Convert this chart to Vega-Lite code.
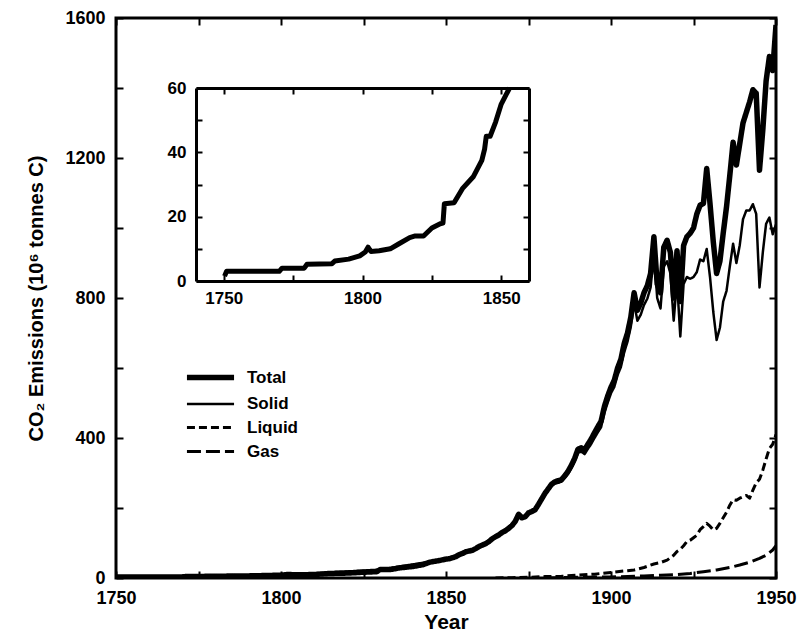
{
  "$schema": "https://vega.github.io/schema/vega-lite/v6.json",
  "width": 660,
  "height": 560,
  "autosize": {"type": "none"},
  "padding": {"left": 116, "top": 18, "right": 22, "bottom": 56},
  "background": "white",
  "config": {
    "view": {"stroke": "black", "strokeWidth": 3},
    "font": "Liberation Sans",
    "axis": {"grid": false, "labelFont": "Liberation Sans", "labelFontWeight": "bold", "labelColor": "black", "tickColor": "black", "domainColor": "black", "titleColor": "black", "titleFont": "Liberation Sans", "titleFontWeight": "bold", "labelFlush": false}
  },
  "datasets": {
    "main": [
      {"series":"Total","year":1750,"value":3},{"series":"Total","year":1760,"value":3},{"series":"Total","year":1770,"value":3},{"series":"Total","year":1771,"value":4},{"series":"Total","year":1780,"value":5},{"series":"Total","year":1790,"value":6},{"series":"Total","year":1800,"value":8},{"series":"Total","year":1802,"value":10},{"series":"Total","year":1805,"value":9},{"series":"Total","year":1810,"value":10},{"series":"Total","year":1815,"value":13},{"series":"Total","year":1820,"value":14},{"series":"Total","year":1825,"value":16.5},{"series":"Total","year":1829,"value":18},{"series":"Total","year":1830,"value":24},{"series":"Total","year":1833,"value":24},{"series":"Total","year":1836,"value":29},{"series":"Total","year":1840,"value":33},{"series":"Total","year":1843,"value":38},{"series":"Total","year":1845,"value":45},{"series":"Total","year":1848,"value":50},
      {"series":"Total","year":1850,"value":54},{"series":"Total","year":1851,"value":55},{"series":"Total","year":1852,"value":58},{"series":"Total","year":1853,"value":61},{"series":"Total","year":1854,"value":67},{"series":"Total","year":1855,"value":70},{"series":"Total","year":1856,"value":75},{"series":"Total","year":1857,"value":77},{"series":"Total","year":1858,"value":79},{"series":"Total","year":1859,"value":84},
      {"series":"Total","year":1860,"value":90},{"series":"Total","year":1861,"value":94},{"series":"Total","year":1862,"value":98},{"series":"Total","year":1863,"value":104},{"series":"Total","year":1864,"value":112},{"series":"Total","year":1865,"value":118},{"series":"Total","year":1866,"value":123},{"series":"Total","year":1867,"value":130},{"series":"Total","year":1868,"value":135},{"series":"Total","year":1869,"value":142},
      {"series":"Total","year":1870,"value":150},{"series":"Total","year":1871,"value":162},{"series":"Total","year":1872,"value":182},{"series":"Total","year":1873,"value":172},{"series":"Total","year":1874,"value":175},{"series":"Total","year":1875,"value":186},{"series":"Total","year":1876,"value":190},{"series":"Total","year":1877,"value":195},{"series":"Total","year":1878,"value":210},{"series":"Total","year":1879,"value":226},
      {"series":"Total","year":1880,"value":242},{"series":"Total","year":1881,"value":255},{"series":"Total","year":1882,"value":268},{"series":"Total","year":1883,"value":275},{"series":"Total","year":1884,"value":278},{"series":"Total","year":1885,"value":281},{"series":"Total","year":1886,"value":292},{"series":"Total","year":1887,"value":305},{"series":"Total","year":1888,"value":322},{"series":"Total","year":1889,"value":342},
      {"series":"Total","year":1890,"value":368},{"series":"Total","year":1891,"value":372},{"series":"Total","year":1892,"value":366},{"series":"Total","year":1893,"value":382},{"series":"Total","year":1894,"value":397},{"series":"Total","year":1895,"value":415},{"series":"Total","year":1896,"value":432},{"series":"Total","year":1897,"value":448},{"series":"Total","year":1898,"value":490},{"series":"Total","year":1899,"value":520},
      {"series":"Total","year":1900,"value":545},{"series":"Total","year":1901,"value":565},{"series":"Total","year":1902,"value":600},{"series":"Total","year":1903,"value":625},{"series":"Total","year":1904,"value":670},{"series":"Total","year":1905,"value":700},{"series":"Total","year":1906,"value":745},{"series":"Total","year":1907,"value":815},{"series":"Total","year":1908,"value":765},{"series":"Total","year":1909,"value":785},
      {"series":"Total","year":1910,"value":815},{"series":"Total","year":1911,"value":835},{"series":"Total","year":1912,"value":870},{"series":"Total","year":1913,"value":975},{"series":"Total","year":1914,"value":840},{"series":"Total","year":1915,"value":815},{"series":"Total","year":1916,"value":945},{"series":"Total","year":1917,"value":965},{"series":"Total","year":1918,"value":930},{"series":"Total","year":1919,"value":800},
      {"series":"Total","year":1920,"value":935},{"series":"Total","year":1921,"value":790},{"series":"Total","year":1922,"value":950},{"series":"Total","year":1923,"value":975},{"series":"Total","year":1924,"value":985},{"series":"Total","year":1925,"value":1000},{"series":"Total","year":1926,"value":1040},{"series":"Total","year":1927,"value":1065},{"series":"Total","year":1928,"value":1070},{"series":"Total","year":1929,"value":1170},
      {"series":"Total","year":1930,"value":1070},{"series":"Total","year":1931,"value":960},{"series":"Total","year":1932,"value":870},{"series":"Total","year":1933,"value":905},{"series":"Total","year":1934,"value":985},{"series":"Total","year":1935,"value":1060},{"series":"Total","year":1936,"value":1150},{"series":"Total","year":1937,"value":1245},{"series":"Total","year":1938,"value":1180},{"series":"Total","year":1939,"value":1240},
      {"series":"Total","year":1940,"value":1300},{"series":"Total","year":1941,"value":1330},{"series":"Total","year":1942,"value":1360},{"series":"Total","year":1943,"value":1395},{"series":"Total","year":1944,"value":1385},{"series":"Total","year":1945,"value":1165},{"series":"Total","year":1946,"value":1280},{"series":"Total","year":1947,"value":1420},{"series":"Total","year":1948,"value":1490},{"series":"Total","year":1949,"value":1450},{"series":"Total","year":1950,"value":1580},

      {"series":"Solid","year":1750,"value":3},{"series":"Solid","year":1800,"value":8},{"series":"Solid","year":1830,"value":24},{"series":"Solid","year":1850,"value":54},{"series":"Solid","year":1855,"value":70},{"series":"Solid","year":1860,"value":90},{"series":"Solid","year":1865,"value":118},{"series":"Solid","year":1869,"value":141},
      {"series":"Solid","year":1870,"value":149},{"series":"Solid","year":1871,"value":161},{"series":"Solid","year":1872,"value":180},{"series":"Solid","year":1873,"value":170},{"series":"Solid","year":1874,"value":173},{"series":"Solid","year":1875,"value":184},{"series":"Solid","year":1876,"value":188},{"series":"Solid","year":1877,"value":192},{"series":"Solid","year":1878,"value":207},{"series":"Solid","year":1879,"value":222},
      {"series":"Solid","year":1880,"value":238},{"series":"Solid","year":1881,"value":251},{"series":"Solid","year":1882,"value":263},{"series":"Solid","year":1883,"value":270},{"series":"Solid","year":1884,"value":272},{"series":"Solid","year":1885,"value":275},{"series":"Solid","year":1886,"value":286},{"series":"Solid","year":1887,"value":298},{"series":"Solid","year":1888,"value":314},{"series":"Solid","year":1889,"value":333},
      {"series":"Solid","year":1890,"value":358},{"series":"Solid","year":1891,"value":361},{"series":"Solid","year":1892,"value":354},{"series":"Solid","year":1893,"value":369},{"series":"Solid","year":1894,"value":383},{"series":"Solid","year":1895,"value":400},{"series":"Solid","year":1896,"value":416},{"series":"Solid","year":1897,"value":431},{"series":"Solid","year":1898,"value":472},{"series":"Solid","year":1899,"value":501},
      {"series":"Solid","year":1900,"value":528},{"series":"Solid","year":1901,"value":546},{"series":"Solid","year":1902,"value":580},{"series":"Solid","year":1903,"value":603},{"series":"Solid","year":1904,"value":645},{"series":"Solid","year":1905,"value":675},{"series":"Solid","year":1906,"value":718},{"series":"Solid","year":1907,"value":785},{"series":"Solid","year":1908,"value":735},{"series":"Solid","year":1909,"value":752},
      {"series":"Solid","year":1910,"value":780},{"series":"Solid","year":1911,"value":798},{"series":"Solid","year":1912,"value":830},{"series":"Solid","year":1913,"value":930},{"series":"Solid","year":1914,"value":800},{"series":"Solid","year":1915,"value":770},{"series":"Solid","year":1916,"value":890},{"series":"Solid","year":1917,"value":905},{"series":"Solid","year":1918,"value":870},{"series":"Solid","year":1919,"value":735},
      {"series":"Solid","year":1920,"value":850},{"series":"Solid","year":1921,"value":690},{"series":"Solid","year":1922,"value":840},{"series":"Solid","year":1923,"value":860},{"series":"Solid","year":1924,"value":855},{"series":"Solid","year":1925,"value":860},{"series":"Solid","year":1926,"value":874},{"series":"Solid","year":1927,"value":910},{"series":"Solid","year":1928,"value":905},{"series":"Solid","year":1929,"value":940},
      {"series":"Solid","year":1930,"value":860},{"series":"Solid","year":1931,"value":760},{"series":"Solid","year":1932,"value":680},{"series":"Solid","year":1933,"value":715},{"series":"Solid","year":1934,"value":790},{"series":"Solid","year":1935,"value":820},{"series":"Solid","year":1936,"value":890},{"series":"Solid","year":1937,"value":955},{"series":"Solid","year":1938,"value":900},{"series":"Solid","year":1939,"value":950},
      {"series":"Solid","year":1940,"value":1025},{"series":"Solid","year":1941,"value":1050},{"series":"Solid","year":1942,"value":1050},{"series":"Solid","year":1943,"value":1068},{"series":"Solid","year":1944,"value":1040},{"series":"Solid","year":1945,"value":830},{"series":"Solid","year":1946,"value":930},{"series":"Solid","year":1947,"value":1012},{"series":"Solid","year":1948,"value":1030},{"series":"Solid","year":1949,"value":982},{"series":"Solid","year":1950,"value":1010},

      {"series":"Liquid","year":1865,"value":0},{"series":"Liquid","year":1870,"value":1},{"series":"Liquid","year":1875,"value":2},{"series":"Liquid","year":1880,"value":4},{"series":"Liquid","year":1885,"value":5},{"series":"Liquid","year":1890,"value":8},{"series":"Liquid","year":1895,"value":11},{"series":"Liquid","year":1900,"value":16},{"series":"Liquid","year":1905,"value":21},{"series":"Liquid","year":1907,"value":23},
      {"series":"Liquid","year":1910,"value":30},{"series":"Liquid","year":1913,"value":40},{"series":"Liquid","year":1915,"value":44},{"series":"Liquid","year":1917,"value":51},{"series":"Liquid","year":1919,"value":65},{"series":"Liquid","year":1920,"value":76},{"series":"Liquid","year":1921,"value":82},{"series":"Liquid","year":1922,"value":92},{"series":"Liquid","year":1923,"value":104},{"series":"Liquid","year":1924,"value":108},
      {"series":"Liquid","year":1925,"value":115},{"series":"Liquid","year":1926,"value":122},{"series":"Liquid","year":1927,"value":138},{"series":"Liquid","year":1928,"value":147},{"series":"Liquid","year":1929,"value":156},{"series":"Liquid","year":1930,"value":148},{"series":"Liquid","year":1931,"value":137},{"series":"Liquid","year":1932,"value":142},{"series":"Liquid","year":1933,"value":156},{"series":"Liquid","year":1934,"value":172},
      {"series":"Liquid","year":1935,"value":188},{"series":"Liquid","year":1936,"value":208},{"series":"Liquid","year":1937,"value":224},{"series":"Liquid","year":1938,"value":222},{"series":"Liquid","year":1939,"value":228},{"series":"Liquid","year":1940,"value":232},{"series":"Liquid","year":1941,"value":236},{"series":"Liquid","year":1942,"value":228},{"series":"Liquid","year":1943,"value":251},{"series":"Liquid","year":1944,"value":272},
      {"series":"Liquid","year":1945,"value":282},{"series":"Liquid","year":1946,"value":308},{"series":"Liquid","year":1947,"value":340},{"series":"Liquid","year":1948,"value":370},{"series":"Liquid","year":1949,"value":382},{"series":"Liquid","year":1950,"value":410},

      {"series":"Gas","year":1880,"value":0},{"series":"Gas","year":1885,"value":1},{"series":"Gas","year":1890,"value":2},{"series":"Gas","year":1900,"value":3},{"series":"Gas","year":1905,"value":4},{"series":"Gas","year":1910,"value":6},{"series":"Gas","year":1915,"value":8},{"series":"Gas","year":1920,"value":10},{"series":"Gas","year":1924,"value":13},{"series":"Gas","year":1928,"value":18},
      {"series":"Gas","year":1932,"value":23},{"series":"Gas","year":1936,"value":30},{"series":"Gas","year":1939,"value":37},{"series":"Gas","year":1942,"value":45},{"series":"Gas","year":1945,"value":56},{"series":"Gas","year":1947,"value":65},{"series":"Gas","year":1949,"value":80},{"series":"Gas","year":1950,"value":92}
    ],
    "inset": [
      {"year":1750.3,"value":1.5},{"year":1751,"value":3},{"year":1760,"value":3},{"year":1770,"value":3},{"year":1771,"value":4},{"year":1779,"value":4},{"year":1780,"value":5.2},{"year":1789,"value":5.4},{"year":1790,"value":6.2},{"year":1795,"value":6.8},
      {"year":1799,"value":7.8},{"year":1801,"value":9},{"year":1802,"value":10.5},{"year":1803,"value":9.2},{"year":1806,"value":9.4},{"year":1810,"value":10},{"year":1813,"value":11.5},{"year":1817,"value":13.5},{"year":1819,"value":14},{"year":1822,"value":14},
      {"year":1825,"value":16.5},{"year":1828,"value":17.8},{"year":1829,"value":18},{"year":1829.5,"value":24},{"year":1833,"value":24.3},{"year":1836,"value":28.7},{"year":1840,"value":32.5},{"year":1843,"value":37.5},{"year":1844,"value":41},{"year":1844.6,"value":45},
      {"year":1846,"value":45},{"year":1848,"value":49.5},{"year":1850,"value":55},{"year":1853,"value":60}
    ]
  },
  "layer": [
    {
      "data": {"name": "main"},
      "layer": [
        {
          "mark": {"type": "line", "color": "black", "strokeJoin": "round", "clip": true},
          "encoding": {
            "x": {"field": "year", "type": "quantitative",
              "scale": {"domain": [1750, 1950], "nice": false, "zero": false},
              "axis": {"orient": "bottom", "values": [1750, 1775, 1800, 1825, 1850, 1875, 1900, 1925, 1950],
                "labelExpr": "datum.value % 50 === 0 ? datum.label : ''", "format": "d",
                "tickSize": -7, "tickWidth": 2, "domain": false, "labelPadding": 18, "labelFontSize": 18,
                "title": "Year", "titleFontSize": 21, "titlePadding": 4}},
            "y": {"field": "value", "type": "quantitative",
              "scale": {"domain": [0, 1600], "nice": false},
              "axis": {"orient": "left", "values": [0, 200, 400, 600, 800, 1000, 1200, 1400, 1600],
                "labelExpr": "datum.value % 400 === 0 ? datum.label : ''", "format": "d",
                "tickSize": -7, "tickWidth": 2, "domain": false, "labelPadding": 18, "labelFontSize": 18,
                "title": "CO₂ Emissions (10⁶ tonnes C)", "titleFontSize": 20, "titlePadding": 18}},
            "strokeDash": {"field": "series", "type": "nominal",
              "scale": {"domain": ["Total", "Solid", "Liquid", "Gas"], "range": [[1, 0], [1, 0], [8, 4], [14, 5]]},
              "legend": {"title": null, "orient": "none", "legendX": 78, "legendY": 343, "symbolType": "M-1.72,0L1.72,0", "symbolSize": 750, "symbolStrokeColor": "black", "labelFontSize": 17, "labelFontWeight": "bold", "labelFont": "Liberation Sans", "labelColor": "black", "rowPadding": 0, "labelOffset": 20}},
            "strokeWidth": {"field": "series", "type": "nominal",
              "scale": {"type": "ordinal", "domain": ["Total", "Solid", "Liquid", "Gas"], "range": [5.5, 2.5, 3, 3]},
              "legend": {"title": null, "orient": "none", "legendX": 78, "legendY": 343, "symbolType": "M-1.72,0L1.72,0", "symbolSize": 750, "symbolStrokeColor": "black", "labelFontSize": 17, "labelFontWeight": "bold", "labelFont": "Liberation Sans", "labelColor": "black", "rowPadding": 0, "labelOffset": 20}}
          }
        },
        {
          "mark": {"type": "point", "opacity": 0},
          "encoding": {
            "x": {"field": "year", "type": "quantitative",
              "axis": {"orient": "top", "values": [1750, 1775, 1800, 1825, 1850, 1875, 1900, 1925, 1950], "labels": false, "tickSize": -7, "tickWidth": 2, "domain": false, "title": null}},
            "y": {"field": "value", "type": "quantitative",
              "axis": {"orient": "right", "values": [0, 200, 400, 600, 800, 1000, 1200, 1400, 1600], "labels": false, "tickSize": -7, "tickWidth": 2, "domain": false, "title": null}}
          }
        }
      ],
      "resolve": {"axis": {"x": "independent", "y": "independent"}}
    },
    {
      "data": {"name": "inset"},
      "layer": [
        {
          "mark": {"type": "line", "color": "black", "strokeWidth": 5, "strokeJoin": "round"},
          "encoding": {
            "x": {"field": "year", "type": "quantitative",
              "scale": {"domain": [1740, 1860], "range": [80, 413], "nice": false, "zero": false},
              "axis": {"orient": "bottom", "offset": -297, "values": [1750, 1775, 1800, 1825, 1850],
                "labelExpr": "datum.value % 50 === 0 ? datum.label : ''", "format": "d",
                "tickSize": -6, "tickWidth": 2, "domain": true, "domainWidth": 3, "labelPadding": 15, "labelFontSize": 17, "title": null}},
            "y": {"field": "value", "type": "quantitative",
              "scale": {"domain": [0, 60], "range": [263, 70], "nice": false},
              "axis": {"orient": "left", "offset": -80, "values": [0, 10, 20, 30, 40, 50, 60],
                "labelExpr": "datum.value % 20 === 0 ? datum.label : ''", "format": "d",
                "tickSize": -6, "tickWidth": 2, "domain": true, "domainWidth": 3, "labelPadding": 16, "labelFontSize": 17, "title": null}}
          }
        },
        {
          "mark": {"type": "point", "opacity": 0},
          "encoding": {
            "x": {"field": "year", "type": "quantitative",
              "axis": {"orient": "top", "offset": -70, "values": [1750, 1775, 1800, 1825, 1850], "labels": false, "tickSize": -6, "tickWidth": 2, "domain": true, "domainWidth": 3, "title": null}},
            "y": {"field": "value", "type": "quantitative",
              "axis": {"orient": "right", "offset": -247, "values": [0, 10, 20, 30, 40, 50, 60], "labels": false, "tickSize": -6, "tickWidth": 2, "domain": true, "domainWidth": 3, "title": null}}
          }
        }
      ],
      "resolve": {"axis": {"x": "independent", "y": "independent"}}
    }
  ],
  "resolve": {"scale": {"x": "independent", "y": "independent", "strokeDash": "independent", "strokeWidth": "independent"}}
}
